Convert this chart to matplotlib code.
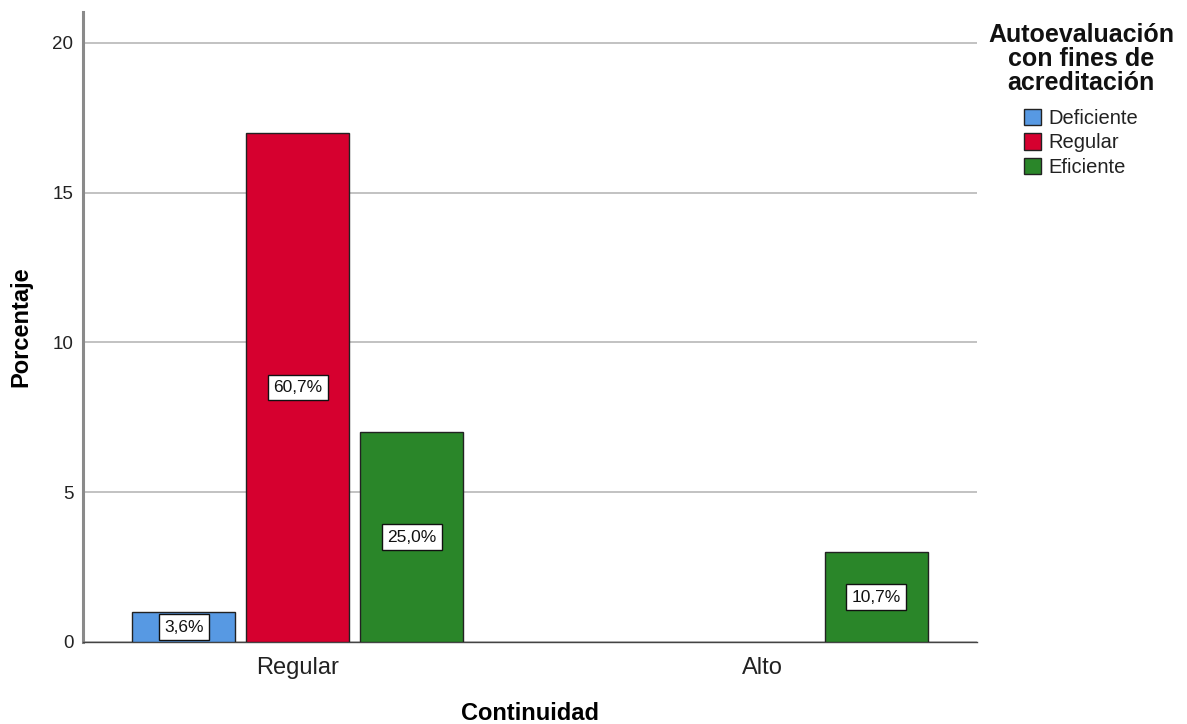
import matplotlib
matplotlib.use("Agg")
import matplotlib.pyplot as plt
from matplotlib.patches import Patch
import numpy as np

plt.rcParams['font.family'] = ['Liberation Sans', 'DejaVu Sans']

# Data: counts per group, with percentage labels over the total
categories = ["Regular", "Alto"]
series_names = ["Deficiente", "Regular", "Eficiente"]
counts = {
    "Deficiente": [1, 0],
    "Regular": [17, 0],
    "Eficiente": [7, 3],
}
pct_labels = {
    "Deficiente": ["3,6%", None],
    "Regular": ["60,7%", None],
    "Eficiente": ["25,0%", "10,7%"],
}
colors = {"Deficiente": "#5799E3", "Regular": "#D6002F", "Eficiente": "#2A8629"}
y_ticks = [0, 5, 10, 15, 20]
legend_title = "Autoevaluación\ncon fines de\nacreditación"

W, H = 1187, 724
fig = plt.figure(figsize=(W / 100, H / 100), dpi=100)
ax = fig.add_axes([83 / W, 82 / H, 894 / W, 630 / H])

bar_w = 0.222
offsets = [-0.2457, 0.0, 0.2457]
x = np.arange(len(categories))

for name, off in zip(series_names, offsets):
    vals = counts[name]
    for xi, v, lab in zip(x, vals, pct_labels[name]):
        if v <= 0:
            continue
        ax.bar(xi + off, v, width=bar_w, color=colors[name], edgecolor="#222222",
               linewidth=1.0, zorder=3)
        ax.text(xi + off, v / 2, lab, ha="center", va="center", fontsize=12.5,
                color="#111111", zorder=4,
                bbox=dict(boxstyle="square,pad=0.3", facecolor="white",
                          edgecolor="#111111", linewidth=1.0))

ax.set_xlim(-0.463, 1.463)
ax.set_ylim(0, 21.03)
ax.set_xticks(x)
ax.set_xticklabels(categories, fontsize=17, color="#222222")
ax.set_yticks(y_ticks)
ax.set_yticklabels([str(t) for t in y_ticks], fontsize=13.5, color="#222222")
ax.tick_params(axis="both", length=0)
ax.tick_params(axis="x", pad=11)
ax.tick_params(axis="y", pad=7)

ax.yaxis.grid(True, color="#BDBDBD", linewidth=1.3, zorder=0)
ax.set_axisbelow(True)

for s in ["top", "right"]:
    ax.spines[s].set_visible(False)
ax.spines["left"].set_color("#8A8A8A")
ax.spines["left"].set_linewidth(2.2)
ax.spines["bottom"].set_color("#444444")
ax.spines["bottom"].set_linewidth(1.0)

ax.set_ylabel("Porcentaje", fontsize=17, fontweight="bold", labelpad=14)
ax.set_xlabel("Continuidad", fontsize=17, fontweight="bold", labelpad=16)

# Legend: centered bold title, then the colour keys
fig.text(1081 / W, 1 - 23 / H, legend_title, ha="center", va="top",
         multialignment="center", fontsize=18, fontweight="bold",
         linespacing=1.0, color="#111111")
handles = [Patch(facecolor=colors[n], edgecolor="#222222", linewidth=1.0) for n in series_names]
leg = fig.legend(handles, series_names, loc="upper left",
                 bbox_to_anchor=(1024 / W, 1 - 109 / H), frameon=False,
                 fontsize=14.5, handlelength=0.85, handleheight=0.85,
                 handletextpad=0.35, labelspacing=0.27, borderaxespad=0,
                 borderpad=0)
for t in leg.get_texts():
    t.set_color("#222222")

fig.savefig("out.png", dpi=100)
